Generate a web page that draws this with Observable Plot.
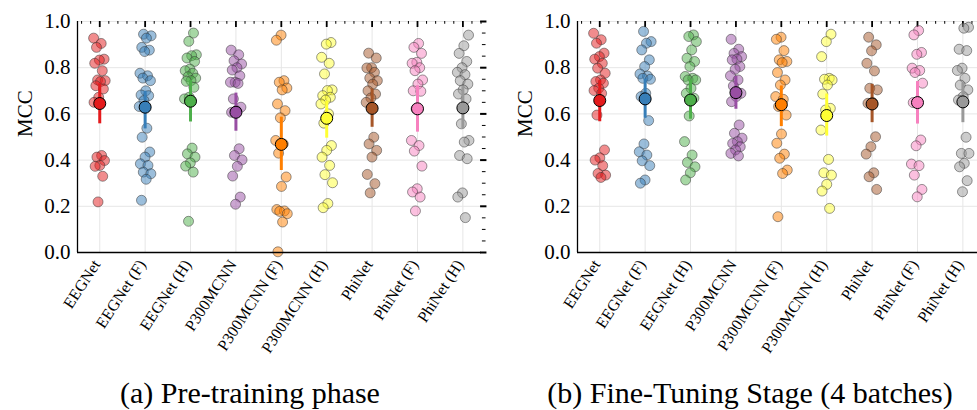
<!DOCTYPE html>
<html><head><meta charset="utf-8">
<script src="https://cdn.jsdelivr.net/npm/d3@7"></script>
<script src="https://cdn.jsdelivr.net/npm/@observablehq/plot@0.6"></script>
<style>
html,body{margin:0;padding:0;background:#fff;width:977px;height:410px;overflow:hidden;}
#wrap{position:relative;width:977px;height:410px;overflow:hidden;}
.panel{position:absolute;top:0;}
.cap{position:absolute;top:375px;width:500px;margin-left:-250px;font-family:'Liberation Serif','DejaVu Serif',serif;font-size:30px;color:#000;text-align:center;white-space:nowrap;line-height:36px;}
</style></head><body><div id="wrap"></div>
<script>
const categories = ["EEGNet","EEGNet (F)","EEGNet (H)","P300MCNN","P300MCNN (F)","P300MCNN (H)","PhiNet","PhiNet (F)","PhiNet (H)"];
const colors = ["#e41a1c","#377eb8","#4daf4a","#984ea3","#ff7f00","#ffff33","#a65628","#f781bf","#999999"];
const yTicks = [0, 0.2, 0.4, 0.6, 0.8, 1.0];

// (a) Pre-training phase
const pretrainScores = [
  [0.928,0.905,0.888,0.837,0.833,0.819,0.787,0.747,0.744,0.740,0.722,0.708,0.672,0.650,0.420,0.413,0.398,0.377,0.373,0.330,0.219],
  [0.945,0.938,0.928,0.888,0.876,0.870,0.776,0.765,0.755,0.744,0.700,0.682,0.679,0.658,0.632,0.538,0.499,0.435,0.413,0.384,0.377,0.348,0.341,0.317,0.226],
  [0.950,0.914,0.856,0.852,0.842,0.827,0.794,0.787,0.776,0.761,0.755,0.744,0.741,0.715,0.672,0.665,0.452,0.427,0.413,0.388,0.374,0.348,0.135],
  [0.876,0.856,0.830,0.816,0.800,0.790,0.765,0.737,0.737,0.732,0.665,0.629,0.614,0.607,0.449,0.420,0.401,0.373,0.331,0.240,0.209],
  [0.941,0.919,0.744,0.737,0.712,0.704,0.643,0.614,0.583,0.485,0.470,0.430,0.327,0.286,0.186,0.180,0.178,0.168,0.132,0.003],
  [0.909,0.902,0.845,0.819,0.773,0.704,0.701,0.679,0.672,0.660,0.643,0.600,0.560,0.463,0.442,0.413,0.377,0.337,0.302,0.212,0.194],
  [0.863,0.842,0.800,0.799,0.780,0.755,0.744,0.729,0.700,0.686,0.669,0.650,0.499,0.470,0.442,0.413,0.338,0.298,0.258],
  [0.905,0.888,0.862,0.823,0.819,0.800,0.787,0.747,0.729,0.700,0.698,0.622,0.485,0.463,0.439,0.374,0.276,0.262,0.240,0.180],
  [0.941,0.895,0.862,0.827,0.800,0.780,0.770,0.744,0.729,0.704,0.686,0.665,0.557,0.485,0.478,0.420,0.406,0.258,0.240,0.151]
];
const pretrainMean = [0.645,0.629,0.655,0.607,0.468,0.581,0.624,0.622,0.626];
const pretrainCiLow = [0.557,0.535,0.565,0.525,0.355,0.495,0.542,0.521,0.535];
const pretrainCiHigh = [0.730,0.698,0.745,0.690,0.586,0.655,0.708,0.722,0.718];

// (b) Fine-Tuning Stage (4 batches)
const finetuneScores = [
  [0.949,0.921,0.906,0.863,0.848,0.837,0.819,0.798,0.776,0.747,0.740,0.733,0.711,0.701,0.689,0.595,0.444,0.410,0.400,0.376,0.342,0.335,0.325],
  [0.957,0.913,0.906,0.877,0.834,0.805,0.773,0.764,0.754,0.750,0.689,0.675,0.571,0.470,0.436,0.422,0.397,0.376,0.314,0.300],
  [0.942,0.935,0.913,0.877,0.841,0.827,0.805,0.762,0.754,0.747,0.747,0.711,0.689,0.668,0.591,0.480,0.422,0.390,0.371,0.345,0.314],
  [0.923,0.880,0.862,0.848,0.837,0.834,0.805,0.793,0.765,0.747,0.721,0.689,0.675,0.653,0.552,0.516,0.495,0.480,0.472,0.458,0.444,0.429,0.418],
  [0.932,0.923,0.874,0.834,0.827,0.822,0.779,0.747,0.725,0.675,0.663,0.632,0.595,0.513,0.473,0.426,0.408,0.357,0.342,0.155],
  [0.945,0.913,0.848,0.754,0.750,0.747,0.725,0.686,0.624,0.617,0.530,0.403,0.345,0.335,0.295,0.266,0.191],
  [0.932,0.899,0.873,0.819,0.786,0.711,0.704,0.649,0.646,0.501,0.458,0.426,0.345,0.328,0.273],
  [0.961,0.942,0.866,0.858,0.798,0.788,0.779,0.733,0.653,0.649,0.487,0.462,0.383,0.376,0.335,0.273,0.241],
  [0.975,0.971,0.880,0.874,0.798,0.788,0.754,0.725,0.704,0.675,0.660,0.499,0.429,0.429,0.386,0.371,0.311,0.263]
];
const finetuneMean = [0.658,0.665,0.660,0.692,0.640,0.593,0.643,0.649,0.652];
const finetuneCiLow = [0.566,0.581,0.577,0.620,0.545,0.504,0.562,0.556,0.562];
const finetuneCiHigh = [0.744,0.751,0.747,0.762,0.721,0.686,0.728,0.740,0.733];

const FONT = "'Liberation Serif','DejaVu Serif',serif";
const xDomain = [-0.49, 8.41];

function makePanel(scores, means, lo, hi) {
  const rows = scores.flatMap((arr, ci) => arr.map((v, j) => ({
    ci, v, jx: ci + ((((j * 0.6180339 + ci * 0.37) % 1) - 0.5) * 0.27)
  })));
  const summary = categories.map((c, i) => ({ci: i, m: means[i], lo: lo[i], hi: hi[i]}));
  const cats = d3.range(categories.length);
  const minorX = d3.range(-0.4, xDomain[1], 0.2).filter(t => Math.abs(t - Math.round(t)) > 0.05);
  const minorY = d3.range(0, 1.001, 0.05).filter(t => Math.abs(t * 5 - Math.round(t * 5)) > 0.05);
  return Plot.plot({
    width: 500, height: 362,
    marginLeft: 77, marginRight: 19, marginTop: 21, marginBottom: 110,
    style: {fontFamily: FONT, background: "transparent", overflow: "visible", color: "#000"},
    x: {type: "linear", domain: xDomain, axis: null},
    y: {domain: [0, 1], axis: null},
    marks: [
      Plot.gridY(yTicks, {stroke: "#e6e6e6", strokeOpacity: 1, strokeWidth: 1}),
      Plot.gridX(cats, {stroke: "#e6e6e6", strokeOpacity: 1, strokeWidth: 1}),
      Plot.axisY(yTicks, {tickSize: 0, tickPadding: 7, fontSize: 21, fontFamily: FONT, tickFormat: d3.format(".1f"), label: null}),
      Plot.axisX(cats, {tickSize: 0, tickPadding: 9, dx: -3, tickRotate: -57, fontSize: 16, fontFamily: FONT, tickFormat: i => categories[i], label: null}),
      Plot.text(["MCC"], {frameAnchor: "left", dx: -52, rotate: -90, fontSize: 21, fontFamily: FONT}),
      Plot.ruleX(cats, {y1: 1, y2: 0.974, stroke: "#000", strokeWidth: 1.8}),
      Plot.ruleX(minorX, {y1: 1, y2: 0.988, stroke: "#000", strokeWidth: 1}),
      Plot.ruleY(yTicks, {x1: xDomain[1] - 0.02, x2: xDomain[1] + 0.12, stroke: "#000", strokeWidth: 2}),
      Plot.ruleY(minorY, {x1: xDomain[1] + 0.02, x2: xDomain[1] + 0.1, stroke: "#000", strokeWidth: 1}),
      Plot.dot(rows, {x: "jx", y: "v", r: 5, fill: d => colors[d.ci], fillOpacity: 0.5, stroke: "#333", strokeOpacity: 0.5, strokeWidth: 1}),
      Plot.ruleX(summary, {x: "ci", y1: "lo", y2: "hi", stroke: d => colors[d.ci], strokeWidth: 3}),
      Plot.dot(summary, {x: "ci", y: "m", r: 6, fill: d => colors[d.ci], stroke: "#000", strokeWidth: 1}),
      Plot.ruleX([xDomain[0]], {stroke: "#000", strokeWidth: 1.3}),
      Plot.ruleY([0], {stroke: "#000", strokeWidth: 1.3})
    ]
  });
}

const wrap = document.getElementById("wrap");
const pa = makePanel(pretrainScores, pretrainMean, pretrainCiLow, pretrainCiHigh);
pa.classList.add("panel"); pa.style.left = "0px";
const pb = makePanel(finetuneScores, finetuneMean, finetuneCiLow, finetuneCiHigh);
pb.classList.add("panel"); pb.style.left = "500px";
wrap.appendChild(pa); wrap.appendChild(pb);
const ca = document.createElement("div"); ca.className = "cap"; ca.style.left = "250px"; ca.textContent = "(a) Pre-training phase";
const cb = document.createElement("div"); cb.className = "cap"; cb.style.left = "750px"; cb.textContent = "(b) Fine-Tuning Stage (4 batches)";
wrap.appendChild(ca); wrap.appendChild(cb);
</script>
</body></html>
